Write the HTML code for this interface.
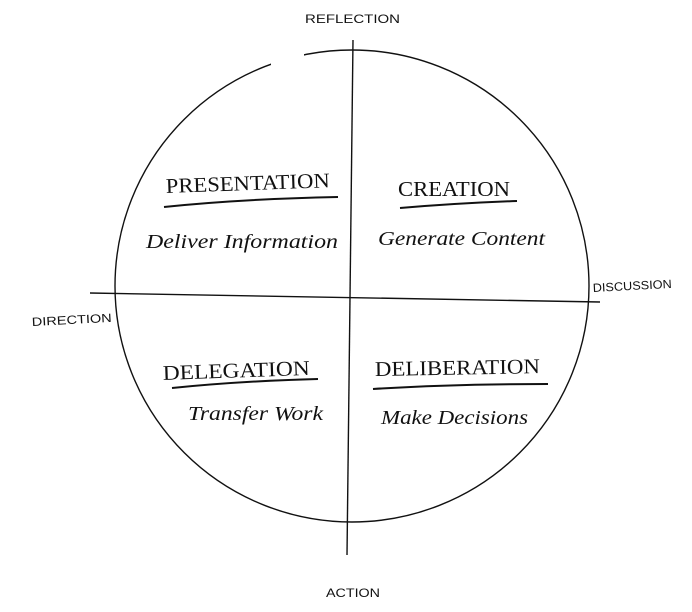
<!DOCTYPE html>
<html><head><meta charset="utf-8"><style>
html,body{margin:0;padding:0;background:#fff;}
svg{display:block}
text{font-family:"Liberation Serif",serif;fill:#111;}
.h{font-size:21px}
.s{font-size:20px;font-style:italic}
.a{font-family:"Liberation Sans",sans-serif;font-size:12px}
</style></head><body>
<svg width="692" height="612" viewBox="0 0 692 612" xmlns="http://www.w3.org/2000/svg">
<g fill="none" stroke="#111" stroke-width="1.4">
<ellipse cx="352" cy="286" rx="237" ry="236"/>
</g>
<polygon points="271,40 304,40 304,70 271,70" fill="#fff"/>
<g fill="none" stroke="#111" stroke-width="1.4">
<path d="M353,40 L347,555"/>
<path d="M90,293 L600,302"/>
<path d="M164,207 Q240,199 338,197" stroke-width="2"/>
<path d="M400,208 Q460,203 517,201" stroke-width="2"/>
<path d="M172,388 Q240,381 318,379" stroke-width="2"/>
<path d="M373,389 Q450,384 548,384" stroke-width="2"/>
</g>
<text class="a" x="305" y="23" textLength="95" lengthAdjust="spacingAndGlyphs">REFLECTION</text>
<text class="a" x="326" y="597" textLength="54" lengthAdjust="spacingAndGlyphs">ACTION</text>
<text class="a" x="32" y="326" transform="rotate(-3 32 326)" textLength="80" lengthAdjust="spacingAndGlyphs">DIRECTION</text>
<text class="a" x="593" y="292" transform="rotate(-3 593 292)" textLength="79" lengthAdjust="spacingAndGlyphs">DISCUSSION</text>
<text class="h" x="166" y="193" transform="rotate(-2 166 193)" textLength="164" lengthAdjust="spacingAndGlyphs">PRESENTATION</text>
<text class="h" x="398" y="196" textLength="112" lengthAdjust="spacingAndGlyphs">CREATION</text>
<text class="s" x="146" y="248" textLength="192" lengthAdjust="spacingAndGlyphs">Deliver Information</text>
<text class="s" x="378" y="245" textLength="167" lengthAdjust="spacingAndGlyphs">Generate Content</text>
<text class="h" x="163" y="380" transform="rotate(-2 163 380)" textLength="147" lengthAdjust="spacingAndGlyphs">DELEGATION</text>
<text class="h" x="375" y="376" transform="rotate(-1 375 376)" textLength="165" lengthAdjust="spacingAndGlyphs">DELIBERATION</text>
<text class="s" x="188" y="420" textLength="135" lengthAdjust="spacingAndGlyphs">Transfer Work</text>
<text class="s" x="381" y="424" textLength="147" lengthAdjust="spacingAndGlyphs">Make Decisions</text>
</svg>
</body></html>
